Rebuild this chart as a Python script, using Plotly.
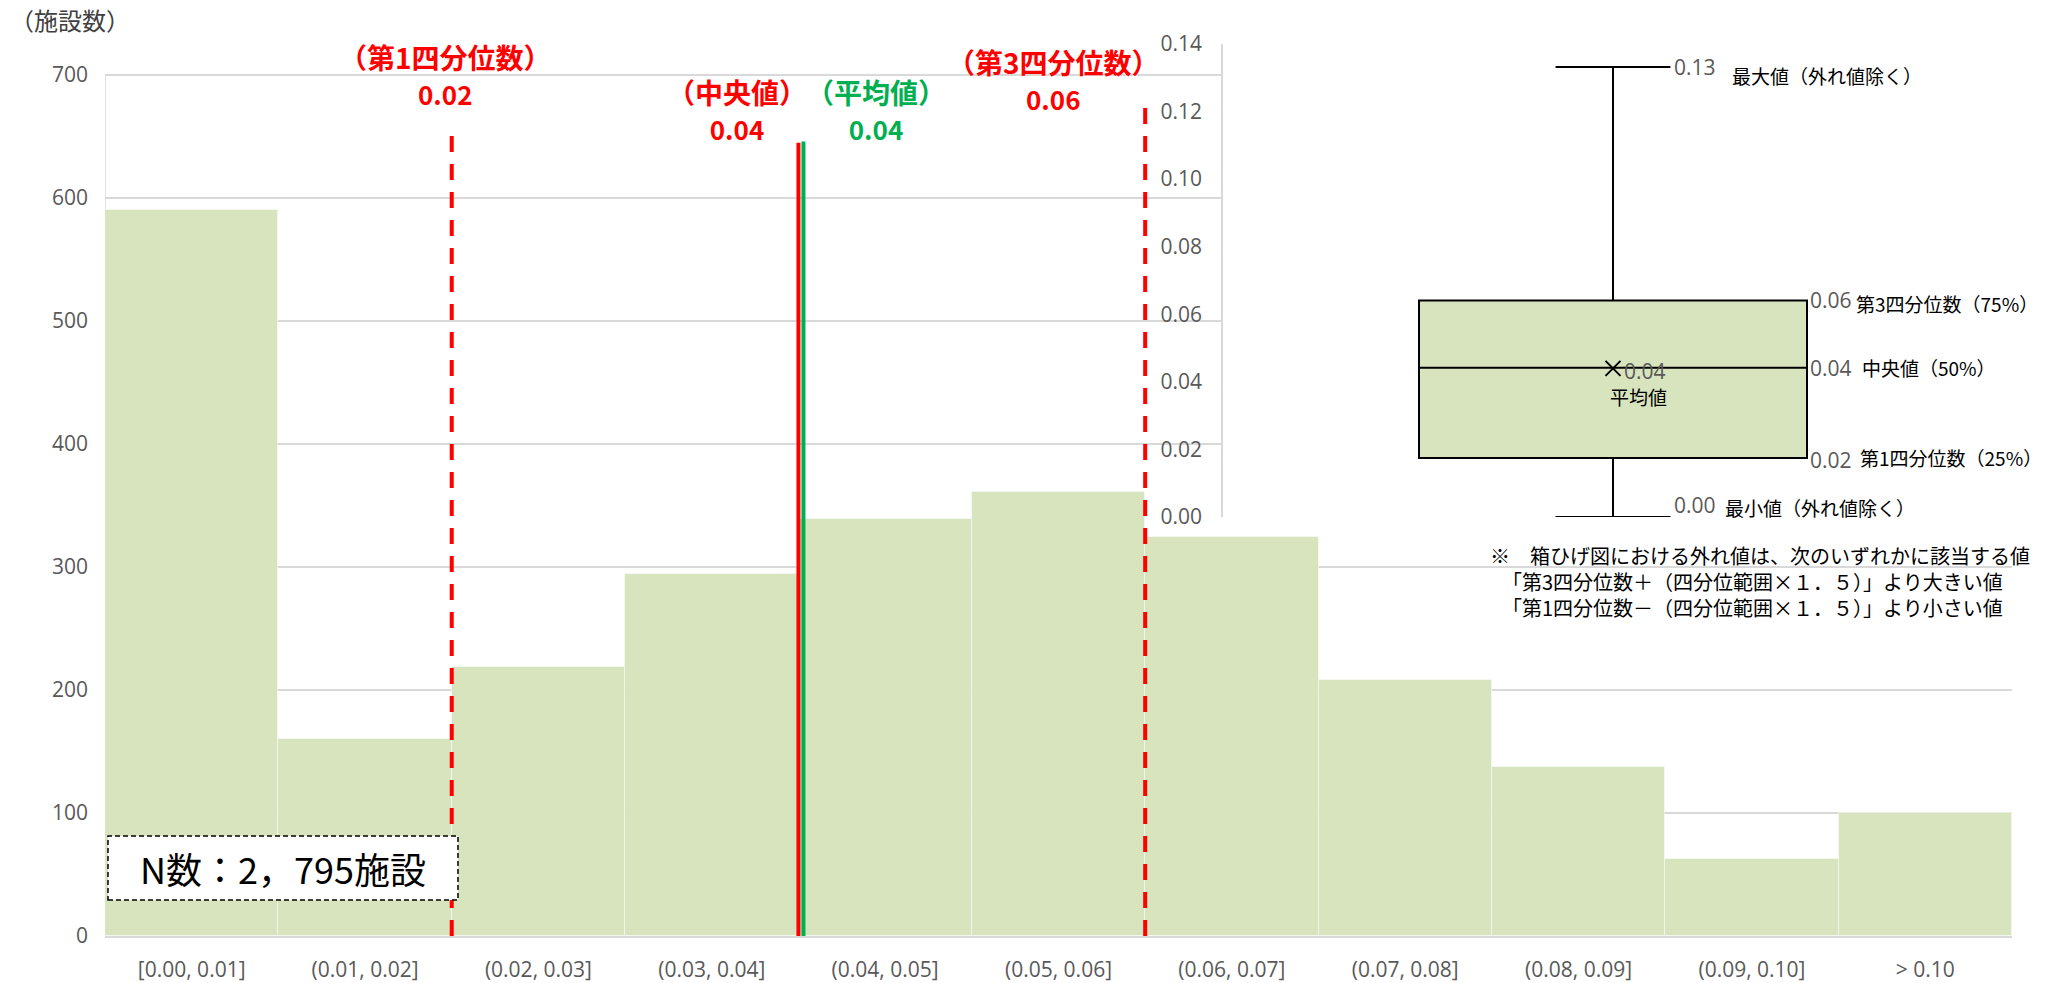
import plotly.graph_objects as go

# ---------------- data ----------------
categories = ["[0.00, 0.01]", "(0.01, 0.02]", "(0.02, 0.03]", "(0.03, 0.04]",
              "(0.04, 0.05]", "(0.05, 0.06]", "(0.06, 0.07]", "(0.07, 0.08]",
              "(0.08, 0.09]", "(0.09, 0.10]", "> 0.10"]
counts = [590, 160, 219, 294, 339, 361, 324, 208, 137, 63, 100]
y_ticks = [0, 100, 200, 300, 400, 500, 600, 700]

# box-plot statistics
box_min = 0.0
box_q1 = 0.0175
box_median = 0.0442
box_mean = 0.0440
box_q3 = 0.0641
box_max = 0.1332
box_ticks = [0.00, 0.02, 0.04, 0.06, 0.08, 0.10, 0.12, 0.14]

# marker values drawn on the histogram
hist_q1 = 0.02
hist_median = 0.04
hist_mean = 0.04
hist_q3 = 0.06
bin_width = 0.01
n_total = "N数：2，795施設"

# ---------------- geometry ----------------
W, H = 2053, 983
L, R, T, B = 105, 41, 44, 47
PW, PH = W - L - R, H - T - B
Y_TOP = 700 * PH / 861.0          # 700 sits 861 px above the baseline

def px_x(px):
    return (px - L) / PW

def px_y(py):
    return (H - B - py) / PH

def val2cat(v):
    return v / bin_width - 0.5

GREEN_FILL = "#D7E4BD"
RED = "#FF0000"
GREEN = "#00B050"
GRID = "#D9D9D9"
TICK = "#595959"
JP = "Noto Sans CJK JP"
NUM = "Open Sans"

fig = go.Figure()

fig.add_trace(go.Bar(
    x=list(range(len(categories))), y=counts, width=1,
    marker=dict(color=GREEN_FILL, line=dict(color="rgba(255,255,255,0.45)", width=1)),
    hoverinfo="skip", showlegend=False))

# box plot on secondary axes
box_w = 1.0
whisker_frac = 0.296
fig.add_trace(go.Box(
    x=[0], q1=[box_q1], median=[box_median], q3=[box_q3],
    lowerfence=[box_min], upperfence=[box_max],
    width=box_w, whiskerwidth=whisker_frac, boxpoints=False,
    fillcolor=GREEN_FILL, line=dict(color="black", width=2),
    xaxis="x2", yaxis="y2", hoverinfo="skip", showlegend=False))
fig.add_trace(go.Scatter(
    x=[0], y=[box_mean], mode="markers",
    marker=dict(symbol="x-thin", size=15, line=dict(color="black", width=2)),
    xaxis="x2", yaxis="y2", hoverinfo="skip", showlegend=False))

shapes = []
# left axis line
shapes.append(dict(type="line", xref="x", yref="y", x0=-0.5, x1=-0.5, y0=0, y1=700,
                   line=dict(color=GRID, width=1.5), layer="below"))
# quartile/median/mean lines
shapes.append(dict(type="line", xref="x", yref="y", x0=val2cat(hist_q1), x1=val2cat(hist_q1),
                   y0=0, y1=651, line=dict(color=RED, width=4, dash="16px,12px")))
shapes.append(dict(type="line", xref="x", yref="y", x0=val2cat(hist_q3), x1=val2cat(hist_q3),
                   y0=0, y1=682, line=dict(color=RED, width=4, dash="16px,12px")))
shapes.append(dict(type="line", xref="x", yref="y", x0=val2cat(hist_median), x1=val2cat(hist_median),
                   y0=0, y1=645, line=dict(color=RED, width=4)))
mean_x = val2cat(hist_mean) + 5.0 / (PW / 11.0)
shapes.append(dict(type="line", xref="x", yref="y", x0=mean_x, x1=mean_x,
                   y0=0, y1=646, line=dict(color=GREEN, width=4)))
# N box
shapes.append(dict(type="rect", xref="paper", yref="paper",
                   x0=px_x(108), x1=px_x(458), y0=px_y(900), y1=px_y(836),
                   fillcolor="white", line=dict(color="black", width=1.5, dash="5px,3px")))

ann = []

def txt(text, x, y, size, color, bold=False, xanchor="center", xref="paper", yref="paper",
        family=JP, xshift=0, yshift=0, yanchor="middle"):
    if bold:
        text = "<b>" + text + "</b>"
    ann.append(dict(text=text, x=x, y=y, xref=xref, yref=yref, xanchor=xanchor,
                    yanchor=yanchor, showarrow=False, xshift=xshift, yshift=yshift,
                    font=dict(family=family, size=size, color=color)))

txt("（施設数）", px_x(8), px_y(20), 24, "#404040", xanchor="left")

# headings above the lines (title + value in one block)
HS, VS = 28, 26

def heading(title, value, cx, top, color):
    text = (f"<b>{title}</b><br><b><span style='font-size:{VS}px'>{value:.2f}</span></b>")
    txt(text, px_x(cx), px_y(top), HS, color, yanchor="top")

heading("（第1四分位数）", hist_q1, 445, 35, RED)
heading("（中央値）", hist_median, 737, 70, RED)
heading("（平均値）", hist_mean, 876, 70, GREEN)
heading("（第3四分位数）", hist_q3, 1053, 40, RED)

# N count
txt(n_total, px_x(283), px_y(868), 36, "black")

# box-plot labels
cap = box_w * whisker_frac / 2
half = box_w / 2
BL, BN = 19, 21
txt(f"{box_max:.2f}", cap, box_max, BN, TICK, xanchor="left", xref="x2", yref="y2", family=NUM, xshift=2)
txt("最大値（外れ値除く）", cap, box_max, BL, "black", xanchor="left", xref="x2", yref="y2", xshift=60, yshift=-9)
txt(f"{box_q3:.2f}", half, box_q3, BN, TICK, xanchor="left", xref="x2", yref="y2", family=NUM, xshift=1)
txt("第3四分位数（75%）", half, box_q3, BL, "black", xanchor="left", xref="x2", yref="y2", xshift=47, yshift=-3)
txt(f"{box_median:.2f}", half, box_median, BN, TICK, xanchor="left", xref="x2", yref="y2", family=NUM, xshift=1)
txt("中央値（50%）", half, box_median, BL, "black", xanchor="left", xref="x2", yref="y2", xshift=53)
txt(f"{box_q1:.2f}", half, box_q1, BN, TICK, xanchor="left", xref="x2", yref="y2", family=NUM, xshift=1, yshift=-2)
txt("第1四分位数（25%）", half, box_q1, BL, "black", xanchor="left", xref="x2", yref="y2", xshift=51)
txt(f"{box_min:.2f}", cap, box_min, BN, TICK, xanchor="left", xref="x2", yref="y2", family=NUM, xshift=2, yshift=12)
txt("最小値（外れ値除く）", cap, box_min, BL, "black", xanchor="left", xref="x2", yref="y2", xshift=53, yshift=10)
txt(f"{box_mean:.2f}", 0, box_mean, BN, TICK, xanchor="left", xref="x2", yref="y2", family=NUM, xshift=9, yshift=-3)
txt("平均値", 0, box_mean, BL, "black", xref="x2", yref="y2", xshift=25, yshift=-28)

# footnote
FN = 20
txt("※　箱ひげ図における外れ値は、次のいずれかに該当する値", px_x(1760), px_y(555), FN, "black")
txt("「第3四分位数＋（四分位範囲×１．５）」より大きい値", px_x(1752), px_y(581), FN, "black")
txt("「第1四分位数－（四分位範囲×１．５）」より小さい値", px_x(1752), px_y(607), FN, "black")

x2_left = -(1613 - 1223) / 388.0
x2_right = (2012 - 1613) / 388.0

TF = 21
fig.update_layout(
    width=W, height=H,
    margin=dict(l=L, r=R, t=T, b=B, pad=0, autoexpand=False),
    paper_bgcolor="white", plot_bgcolor="white",
    bargap=0, showlegend=False,
    xaxis=dict(range=[-0.5, len(categories) - 0.5], tickvals=list(range(len(categories))),
               ticktext=categories, showgrid=False, zeroline=False, automargin=False,
               showline=True, linecolor=GRID, linewidth=1.5, ticks="",
               tickfont=dict(family=NUM, size=TF, color=TICK), ticklabelstandoff=14,
               fixedrange=True),
    yaxis=dict(range=[0, Y_TOP], tickvals=y_ticks, showgrid=True, gridcolor=GRID,
               gridwidth=1.5, zeroline=False, showline=False, ticks="", automargin=False,
               tickfont=dict(family=NUM, size=TF, color=TICK), ticklabelstandoff=16,
               fixedrange=True),
    xaxis2=dict(domain=[px_x(1223), 1], range=[x2_left, x2_right], anchor="y2",
                visible=False, fixedrange=True, automargin=False),
    yaxis2=dict(domain=[px_y(517), 1], range=[0, 0.14], anchor="x2", tickvals=box_ticks,
                tickformat=".2f", showgrid=False, zeroline=False, showline=True,
                linecolor=GRID, linewidth=1.5, ticks="", automargin=False,
                tickfont=dict(family=NUM, size=TF, color=TICK), ticklabelstandoff=15,
                fixedrange=True),
    shapes=shapes, annotations=ann,
)

fig.write_html("out.html", config={"displayModeBar": False},
               post_script="document.body.style.margin='0';document.body.style.overflow='hidden';")
